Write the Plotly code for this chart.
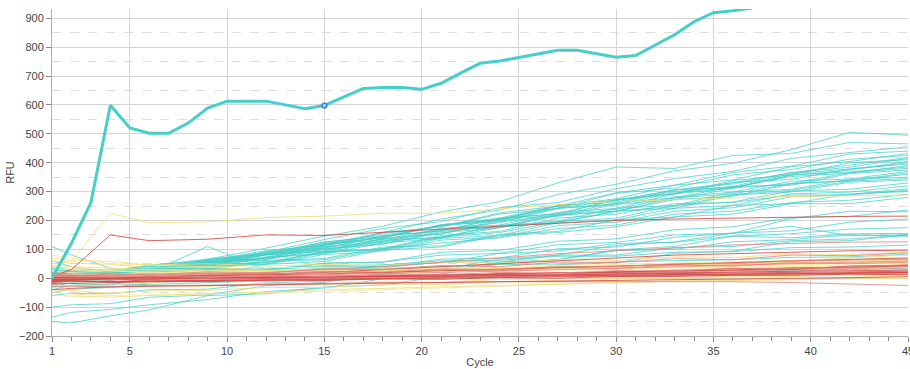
import plotly.graph_objects as go

# Cycle grid used by the thin sample curves
sample_cycles = [1, 2, 4, 6, 9, 12, 15, 18, 21, 24, 27, 30, 33, 36, 39, 42, 45]

# Highlighted well (every cycle)
main_cycles = list(range(1, 38))
main_rfu = [0, 121, 262, 599, 520, 502, 502, 537, 589, 613, 613, 613, 600, 587, 598,
            628, 657, 660, 660, 654, 675, 710, 744, 752, 764, 777, 789, 789, 777, 765,
            771, 808, 843, 888, 919, 926, 935]
selected_cycle = 15

# Turquoise wells
teal_wells = [
    [20, 15, 10, 28, 50, 92, 118, 158, 205, 236, 290, 325, 372, 398, 445, 505, 495],
    [-10, 5, 12, 44, 66, 104, 146, 180, 230, 265, 330, 385, 380, 425, 432, 470, 465],
    [5, 12, 18, 32, 64, 90, 134, 172, 196, 244, 262, 310, 345, 370, 415, 436, 455],
    [30, 22, 25, 34, 46, 86, 110, 155, 178, 226, 250, 296, 322, 366, 388, 430, 440],
    [-20, -6, 2, 22, 60, 80, 120, 140, 182, 200, 250, 275, 322, 340, 386, 404, 432],
    [10, 18, 22, 46, 60, 96, 112, 158, 178, 222, 242, 294, 312, 358, 376, 412, 425],
    [0, 8, 12, 30, 62, 85, 124, 148, 183, 205, 243, 268, 305, 326, 365, 392, 418],
    [-30, -15, -8, 12, 50, 70, 116, 140, 186, 204, 250, 270, 306, 330, 366, 384, 415],
    [15, 6, 24, 40, 52, 84, 104, 146, 164, 206, 224, 272, 292, 338, 358, 400, 410],
    [40, 28, 30, 30, 66, 84, 126, 144, 182, 198, 242, 258, 306, 314, 356, 374, 405],
    [-5, 4, 14, 26, 60, 80, 120, 140, 184, 208, 252, 264, 300, 318, 362, 378, 400],
    [20, 28, 26, 44, 56, 90, 104, 146, 164, 208, 222, 272, 292, 332, 342, 378, 395],
    [-15, 0, 14, 20, 54, 70, 110, 128, 170, 192, 242, 254, 296, 314, 352, 364, 390],
    [5, -4, 20, 26, 56, 74, 116, 134, 172, 184, 228, 242, 292, 312, 358, 368, 385],
    [25, 16, 16, 40, 50, 86, 98, 136, 154, 196, 214, 256, 272, 312, 328, 366, 380],
    [-10, 0, 0, 26, 40, 82, 94, 138, 152, 202, 218, 262, 278, 318, 322, 362, 375],
    [10, 18, 24, 26, 56, 64, 102, 118, 162, 178, 222, 238, 282, 298, 336, 344, 370],
    [35, 22, 30, 30, 56, 68, 108, 124, 166, 178, 218, 232, 278, 292, 328, 338, 365],
    [0, 8, 14, 20, 50, 64, 102, 118, 158, 174, 218, 232, 272, 284, 326, 338, 360],
    [-25, -10, -4, 20, 34, 72, 88, 128, 142, 182, 198, 242, 252, 298, 308, 342, 350],
    [15, 6, 10, 30, 40, 72, 84, 122, 138, 176, 194, 232, 248, 290, 304, 336, 345],
    [5, 14, 16, 36, 44, 82, 92, 132, 142, 182, 192, 232, 242, 288, 298, 332, 340],
    [-10, 4, 14, 14, 46, 54, 92, 102, 142, 158, 196, 208, 252, 264, 302, 308, 330],
    [20, 10, 20, 20, 46, 54, 92, 98, 138, 148, 192, 202, 242, 252, 292, 298, 320],
    [0, 10, 14, 16, 40, 48, 82, 94, 132, 142, 182, 194, 232, 244, 282, 290, 310],
    [-20, -4, -4, 20, 30, 62, 68, 108, 112, 152, 162, 202, 212, 252, 258, 292, 300],
    [10, 0, 6, 26, 30, 58, 64, 102, 122, 140, 172, 184, 222, 232, 262, 270, 290],
    [30, 16, 20, 16, 40, 50, 88, 102, 148, 162, 208, 222, 258, 262, 288, 288, 305],
    [0, 8, 10, 6, 26, 26, 52, 56, 90, 96, 128, 136, 168, 178, 210, 214, 236],
    [-40, -24, -24, 2, 8, 48, 58, 98, 108, 148, 158, 178, 212, 222, 258, 258, 280],
    [-100, -92, -88, -66, -58, -26, -14, 14, 30, 66, 80, 114, 126, 156, 164, 194, 205],
    [-135, -118, -108, -92, -74, -46, -34, -2, 14, 50, 64, 98, 110, 146, 154, 170, 175],
    [-150, -155, -130, -110, -60, -54, -30, -24, 6, 14, 46, 54, 86, 94, 126, 130, 150],
    [110, 80, 35, 20, 110, 30, 40, 40, 66, 70, 102, 108, 142, 156, 206, 232, 230],
    [60, 40, 20, 15, 30, 30, 52, 56, 80, 86, 116, 124, 150, 156, 180, 148, 150],
    [-50, -38, -32, -16, -8, 14, 20, 46, 54, 86, 94, 120, 124, 146, 140, 154, 155],
    [-60, -52, -54, -40, -38, -16, -10, 16, 24, 56, 64, 96, 100, 126, 134, 150, 145],
    [20, 12, 14, 6, 20, 16, 36, 36, 56, 56, 80, 80, 106, 110, 130, 136, 150],
    [5, 8, 12, 14, 22, 24, 33, 34, 41, 47, 49, 57, 61, 64, 72, 74, 83],
    [-30, -25, -20, -22, -15, -10, -5, -2, 5, 8, 12, 15, 20, 22, 28, 30, 35],
    [30, 24, 22, 22, 34, 32, 44, 46, 60, 62, 76, 76, 90, 92, 106, 108, 115],
]

# Yellow wells
yellow_wells = [
    [50, 60, 225, 192, 195, 210, 215, 225, 225, 240, 255, 265, 272, 278, 283, 286, 288],
    [80, 70, 50, 45, 40, 38, 36, 35, 36, 38, 40, 42, 45, 48, 50, 52, 55],
    [60, 52, 48, 36, 38, 28, 32, 28, 36, 32, 42, 40, 50, 48, 58, 58, 65],
    [40, 35, 30, 28, 25, 24, 25, 28, 30, 34, 38, 42, 48, 52, 56, 60, 62],
    [-40, -42, -52, -44, -42, -32, -32, -22, -22, -12, -12, -2, -2, 8, 8, 18, 20],
    [-50, -55, -60, -58, -55, -50, -45, -40, -35, -28, -22, -15, -10, -5, 0, 5, 8],
    [20, 16, 18, 10, 14, 10, 18, 16, 26, 24, 34, 32, 44, 42, 54, 52, 60],
    [-10, -12, -15, -12, -10, -8, -5, -2, 0, 2, 5, 8, 10, 12, 15, 18, 20],
    [70, 62, 58, 46, 50, 42, 48, 44, 56, 52, 64, 62, 74, 72, 84, 82, 90],
    [0, 5, 8, 10, 12, 14, 16, 20, 24, 28, 32, 36, 40, 44, 48, 50, 52],
    [-25, -26, -32, -24, -28, -18, -20, -12, -14, -4, -8, 2, 0, 8, 6, 12, 12],
    [30, 28, 25, 22, 20, 22, 24, 26, 28, 30, 32, 34, 36, 38, 40, 42, 45],
    [-60, -62, -65, -60, -55, -48, -40, -35, -30, -25, -20, -15, -10, -8, -5, -3, 0],
    [10, 14, 12, 20, 16, 26, 20, 30, 26, 38, 34, 46, 42, 54, 50, 62, 62],
    [45, 40, 35, 30, 28, 26, 25, 26, 28, 32, 36, 40, 46, 52, 60, 70, 80],
    [25, 20, 26, 18, 24, 20, 30, 28, 38, 36, 44, 48, 52, 58, 62, 66, 70],
    [-15, -18, -12, -16, -6, -10, 2, -2, 10, 6, 18, 16, 26, 24, 34, 32, 38],
    [5, 2, 8, 4, 12, 8, 18, 14, 24, 22, 30, 28, 36, 34, 40, 44, 48],
]

# Red wells
red_wells = [
    [5, 30, 150, 130, 135, 150, 148, 160, 170, 180, 190, 200, 205, 208, 212, 214, 215],
    [0, -5, 0, 5, 10, 20, 30, 40, 55, 70, 85, 95, 105, 115, 120, 125, 126],
    [-10, -5, 0, 5, 10, 15, 20, 30, 40, 50, 60, 70, 80, 85, 90, 95, 97],
    [0, 4, -4, 4, 0, 6, 2, 10, 6, 16, 12, 22, 18, 28, 24, 32, 32],
    [-5, -3, -6, -2, 0, 3, 2, 6, 9, 10, 14, 16, 18, 22, 24, 26, 28],
    [10, 6, 10, 6, 16, 12, 22, 18, 30, 26, 38, 34, 46, 42, 54, 50, 55],
    [-20, -18, -15, -12, -10, -8, -5, -2, 0, 3, 5, 8, 10, 12, 15, 18, 20],
    [-30, -28, -30, -25, -24, -20, -18, -15, -15, -12, -12, -10, -10, -12, -15, -20, -25],
    [5, 0, 2, 5, 8, 12, 15, 20, 25, 30, 35, 42, 48, 55, 60, 65, 70],
    [20, 14, 16, 12, 22, 18, 32, 30, 44, 40, 56, 54, 68, 64, 80, 78, 88],
    [-8, -10, -12, -10, -8, -5, -3, 0, 2, 5, 6, 10, 12, 14, 16, 18, 20],
    [2, 0, -2, 0, 3, 5, 6, 9, 12, 14, 18, 20, 24, 27, 30, 35, 40],
    [-15, -10, -12, -6, -8, 0, -2, 8, 4, 16, 12, 24, 22, 34, 30, 42, 45],
    [15, 10, 5, 3, 5, 8, 12, 16, 20, 24, 28, 34, 40, 45, 50, 55, 60],
    [-2, 0, 3, 2, 0, 2, 4, 6, 8, 10, 12, 14, 16, 18, 20, 22, 24],
    [8, 5, 0, -3, -5, -3, 0, 3, 6, 10, 14, 18, 22, 28, 34, 38, 42],
    [-40, -35, -30, -28, -25, -22, -20, -18, -15, -12, -10, -8, -5, -3, 0, 2, 5],
    [0, 0, 1, -1, 0, 1, 2, 2, 4, 5, 7, 8, 10, 12, 14, 15, 16],
    [3, 2, 0, 1, 2, 3, 4, 5, 6, 8, 9, 11, 12, 14, 16, 18, 19],
    [12, 8, 14, 10, 18, 14, 24, 22, 32, 30, 40, 40, 50, 50, 60, 62, 66],
    [-3, -6, 0, -4, 4, 0, 8, 6, 14, 12, 20, 20, 28, 28, 36, 38, 44],
    [6, 10, 4, 8, 2, 10, 6, 14, 12, 20, 18, 26, 26, 34, 34, 40, 46],
    [-12, -8, -14, -10, -12, -6, -8, -2, -4, 2, 0, 6, 6, 10, 10, 14, 12],
]

x_tick_vals = [1, 5, 10, 15, 20, 25, 30, 35, 40, 45]
y_tick_vals = [-200, -100, 0, 100, 200, 300, 400, 500, 600, 700, 800, 900]

TEAL = "#45cfc8"
TEAL_THIN = "rgba(69, 207, 200, 0.75)"
YELLOW_SHADES = ["rgba(240, 222, 120, 0.85)", "rgba(246, 232, 160, 0.9)"]
RED_SHADES = ["rgba(214, 72, 72, 0.85)", "rgba(228, 128, 128, 0.8)"]

fig = go.Figure()

for vals in teal_wells:
    fig.add_trace(go.Scatter(x=sample_cycles, y=vals, mode="lines",
                             line=dict(color=TEAL_THIN, width=1)))
for i, vals in enumerate(yellow_wells):
    fig.add_trace(go.Scatter(x=sample_cycles, y=vals, mode="lines",
                             line=dict(color=YELLOW_SHADES[i % 2], width=1)))
for i, vals in enumerate(red_wells):
    fig.add_trace(go.Scatter(x=sample_cycles, y=vals, mode="lines",
                             line=dict(color=RED_SHADES[i % 2], width=1)))

fig.add_trace(go.Scatter(x=main_cycles, y=main_rfu, mode="lines",
                         line=dict(color=TEAL, width=3)))
fig.add_trace(go.Scatter(x=[selected_cycle], y=[main_rfu[main_cycles.index(selected_cycle)]],
                         mode="markers",
                         marker=dict(size=5, color="#7fe0f0",
                                     line=dict(color="#2266dd", width=1.2))))

axis_font = dict(family="Liberation Sans, Arial, sans-serif", size=11, color="#444444")

fig.update_layout(
    width=910, height=369,
    margin=dict(l=52, r=2, t=9, b=33),
    paper_bgcolor="white", plot_bgcolor="white",
    showlegend=False, hovermode=False,
    font=axis_font,
)

fig.update_xaxes(
    range=[1, 45],
    automargin=False,
    tickmode="array", tickvals=x_tick_vals,
    ticks="outside", ticklen=5, tickcolor="#888888",
    ticklabeloverflow="allow",
    showline=True, linecolor="#b0b0b0", linewidth=1,
    showgrid=True, gridcolor="#d4d4d4", gridwidth=1,
    zeroline=False,
    minor=dict(tickmode="linear", tick0=1, dtick=1, ticks="outside",
               ticklen=4, tickcolor="#888888", showgrid=False),
    title=dict(text="Cycle", font=axis_font, standoff=2),
    tickfont=axis_font,
)

fig.update_yaxes(
    range=[-200, 932],
    automargin=False,
    tickmode="array", tickvals=y_tick_vals,
    ticks="outside", ticklen=5, tickcolor="#888888",
    showline=True, linecolor="#b0b0b0", linewidth=1,
    showgrid=True, gridcolor="#d4d4d4", gridwidth=1,
    zeroline=False,
    minor=dict(tickmode="linear", tick0=-150, dtick=100, ticks="",
               showgrid=True, gridcolor="#dddddd", griddash="dash", gridwidth=1),
    title=dict(text="RFU", font=axis_font, standoff=2),
    tickfont=axis_font,
)

fig.write_html("out.html")
